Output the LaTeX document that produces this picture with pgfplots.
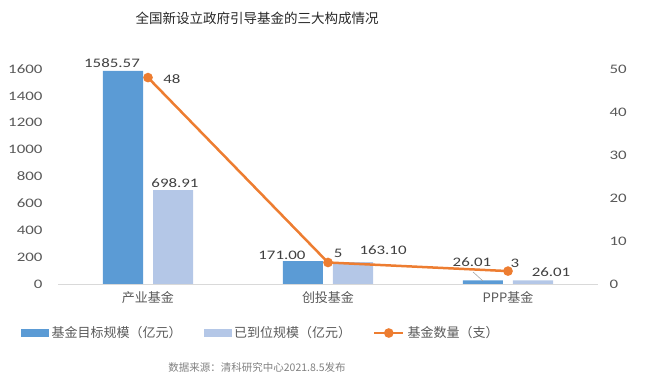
\documentclass[border=0pt]{standalone}
\usepackage{fontspec}
\setmainfont{Carlito}[FakeStretch=1.3]
\newfontfamily\cjk{Noto Sans CJK SC}
\usepackage{pgfplots}
\pgfplotsset{compat=1.18}
\definecolor{cblue}{HTML}{5B9BD5}
\definecolor{clight}{HTML}{B4C7E7}
\definecolor{corange}{HTML}{ED7D31}
\definecolor{tgrey}{HTML}{595959}
\definecolor{lgrey}{HTML}{404040}
\definecolor{agrey}{HTML}{D9D9D9}
\begin{document}
\begin{tikzpicture}[x=1pt,y=1pt]
\useasboundingbox (0,0) rectangle (649,377);
\pgfplotsset{every axis/.append style={scale only axis, width=540pt, height=215pt,
  at={(58pt,93pt)}, anchor=south west, xmin=-0.5, xmax=2.5,
  major tick length=0pt,
  /pgf/number format/assume math mode=true, /pgf/number format/1000 sep={},
  yticklabel style={font=\fontsize{13}{15}\selectfont, text=tgrey}}}
\begin{axis}[
  ymin=0, ymax=1600, ytick={0,200,...,1600},
  xtick={0,1,2}, xticklabels={产业基金,创投基金,PPP基金},
  xticklabel style={font=\cjk\fontsize{13}{15}\selectfont, text=tgrey, yshift=-4pt},
  yticklabel style={xshift=-12pt},
  axis lines*=left, y axis line style={draw=none},
  x axis line style={draw=agrey, line width=0.8pt, -},
  ybar=10pt, bar width=40pt, clip=false]
\addplot[fill=cblue, draw=none] coordinates {(0,1585.57) (1,171.00) (2,26.01)};
\addplot[fill=clight, draw=none] coordinates {(0,698.91) (1,163.10) (2,26.01)};
\draw[gray!70, line width=0.6pt] (axis cs:1.806,89.3) -- (axis cs:1.861,22.3);
\begin{scope}[every node/.style={font=\fontsize{13}{15}\selectfont, text=lgrey}]
\node at (axis cs:-0.2,1644.7) {1585.57};
\node at (axis cs:0.15,751.6) {698.91};
\node at (axis cs:0.744,215.8) {171.00};
\node at (axis cs:1.306,253) {163.10};
\node at (axis cs:1.8,163.7) {26.01};
\node at (axis cs:2.239,89) {26.01};
\node at (axis cs:0.133,1525) {48};
\node at (axis cs:1.056,230.7) {5};
\node at (axis cs:2.039,156) {3};
\end{scope}
\end{axis}
\begin{axis}[
  ymin=0, ymax=50, ytick={0,10,...,50},
  axis y line*=right, axis x line=none, y axis line style={draw=none},
  yticklabel style={xshift=8pt},
  legend columns=3,
  legend style={draw=none, fill=none, at={(-0.074,-0.228)}, anchor=west,
    font=\cjk\fontsize{13}{15}\selectfont, text=tgrey,
    /tikz/every even column/.append style={column sep=20pt},
    /tikz/every odd column/.append style={column sep=1pt}}]
\addlegendimage{legend image code/.code={\fill[cblue] (0pt,-3.5pt) rectangle (27pt,3.5pt);}}
\addlegendentry{基金目标规模（亿元）}
\addlegendimage{legend image code/.code={\fill[clight] (0pt,-3.5pt) rectangle (27pt,3.5pt);}}
\addlegendentry{已到位规模（亿元）}
\addplot[corange, line width=2.5pt, mark=*, mark size=3.5pt,
  legend image code/.code={\draw[corange, line width=2.5pt] (0pt,0pt) -- (29pt,0pt);
   \fill[corange] (14.5pt,0pt) circle (3.5pt);}]
  coordinates {(0,48) (1,5) (2,3)};
\addlegendentry{基金数量（支）}
\end{axis}
\node[font=\cjk\fontsize{13.5}{15}\selectfont, text=black!85] at (257,359) {全国新设立政府引导基金的三大构成情况};
\node[font=\cjk\fontsize{10.5}{12}\selectfont, text=gray] at (257,10) {数据来源：清科研究中心2021.8.5发布};
\end{tikzpicture}
\end{document}
